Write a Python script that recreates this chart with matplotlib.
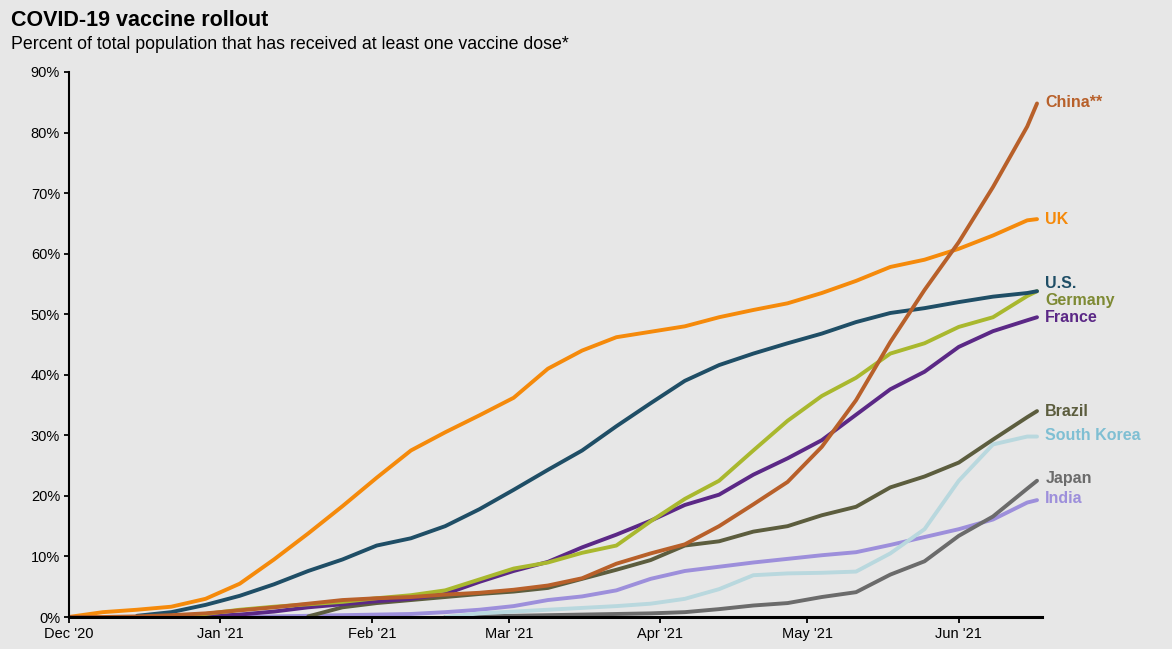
import matplotlib
matplotlib.use("Agg")
import matplotlib.pyplot as plt
import numpy as np
import pandas as pd

nan = np.nan

dates = ["2020-12-01", "2020-12-08", "2020-12-15", "2020-12-22", "2020-12-29",
         "2021-01-05", "2021-01-12", "2021-01-19", "2021-01-26", "2021-02-02",
         "2021-02-09", "2021-02-16", "2021-02-23", "2021-03-02", "2021-03-09",
         "2021-03-16", "2021-03-23", "2021-03-30", "2021-04-06", "2021-04-13",
         "2021-04-20", "2021-04-27", "2021-05-04", "2021-05-11", "2021-05-18",
         "2021-05-25", "2021-06-01", "2021-06-08", "2021-06-15", "2021-06-17"]

uk = [0, 0.8, 1.2, 1.7, 3.0, 5.5, 9.5, 13.8, 18.3, 23.0, 27.5, 30.5, 33.3, 36.2, 41.0,
      44.0, 46.2, 47.1, 48.0, 49.5, 50.7, 51.8, 53.5, 55.5, 57.8, 59.0, 60.8, 63.0, 65.5, 65.7]
us = [nan, nan, 0.2, 0.8, 2.0, 3.5, 5.4, 7.6, 9.5, 11.8, 13.0, 15.0, 17.8, 21.0, 24.3,
      27.5, 31.5, 35.3, 39.0, 41.6, 43.5, 45.2, 46.8, 48.7, 50.2, 51.0, 52.0, 52.9, 53.5, 53.8]
germany = [nan, nan, 0.0, 0.1, 0.5, 1.2, 1.7, 2.1, 2.5, 3.1, 3.6, 4.4, 6.2, 8.0, 9.0,
           10.6, 11.8, 15.8, 19.5, 22.5, 27.5, 32.4, 36.5, 39.5, 43.5, 45.2, 47.9, 49.5, 53.0, 53.8]
france = [nan, nan, nan, 0.0, 0.1, 0.4, 0.9, 1.6, 2.1, 2.6, 3.0, 3.8, 5.8, 7.6, 9.1,
          11.5, 13.6, 15.9, 18.5, 20.2, 23.5, 26.2, 29.2, 33.4, 37.6, 40.5, 44.6, 47.2, 49.0, 49.5]
china = [0, 0.0, 0.1, 0.3, 0.6, 1.1, 1.6, 2.2, 2.8, 3.1, 3.3, 3.7, 4.0, 4.5, 5.2,
         6.4, 8.8, 10.5, 12.0, 15.0, 18.6, 22.3, 28.1, 35.8, 45.4, 54.0, 61.9, 71.0, 81.0, 84.8]
brazil = [nan, nan, nan, nan, nan, nan, nan, 0.1, 1.6, 2.3, 2.8, 3.3, 3.8, 4.2, 4.8,
          6.3, 7.8, 9.4, 11.8, 12.5, 14.1, 15.0, 16.8, 18.2, 21.4, 23.2, 25.5, 29.3, 33.0, 34.0]
south_korea = [nan, nan, nan, nan, nan, nan, nan, nan, nan, nan, nan, 0.0, 0.6, 0.9, 1.2,
               1.5, 1.8, 2.2, 3.0, 4.6, 6.9, 7.2, 7.3, 7.5, 10.5, 14.5, 22.5, 28.5, 29.8, 29.8]
japan = [nan, nan, nan, nan, nan, nan, nan, nan, nan, nan, nan, 0.0, 0.1, 0.2, 0.3,
         0.4, 0.5, 0.6, 0.8, 1.3, 1.9, 2.3, 3.3, 4.1, 7.0, 9.2, 13.4, 16.6, 21.2, 22.5]
india = [nan, nan, nan, nan, nan, 0.0, 0.1, 0.2, 0.3, 0.4, 0.5, 0.8, 1.2, 1.8, 2.8,
         3.4, 4.4, 6.3, 7.6, 8.3, 9.0, 9.6, 10.2, 10.7, 11.9, 13.2, 14.5, 16.1, 18.9, 19.3]

names = ["India", "Japan", "South Korea", "Brazil", "France", "Germany", "U.S.", "UK", "China**"]
series = [india, japan, south_korea, brazil, france, germany, us, uk, china]
line_colors = ["#9d8fdb", "#6b6b6b", "#b9d8de", "#5c5d3e", "#5b2886", "#a9b82e",
               "#1f4e66", "#f58a0b", "#b8602a"]
label_colors = ["#9d8fdb", "#6b6b6b", "#7fbfd3", "#5c5d3e", "#5b2886", "#7e8a34",
                "#1f4e66", "#f58a0b", "#b8602a"]
# label vertical placement (data units) to avoid overlap
label_y = [19.6, 22.8, 29.9, 34.0, 49.4, 52.3, 55.0, 65.7, 85.0]

month_ticks = ["2020-12-01", "2021-01-01", "2021-02-01", "2021-03-01",
               "2021-04-01", "2021-05-01", "2021-06-01"]
month_labels = ["Dec '20", "Jan '21", "Feb '21", "Mar '21", "Apr '21", "May '21", "Jun '21"]
yticks = [0, 10, 20, 30, 40, 50, 60, 70, 80, 90]

bg = "#e7e7e7"
plt.rcParams['font.family'] = ['Liberation Sans', 'DejaVu Sans']

fig = plt.figure(figsize=(11.72, 6.49), dpi=100, facecolor=bg)
ax = fig.add_axes([0.0585, 0.0493, 0.8305, 0.8398], facecolor=bg)

x = pd.to_datetime(dates)
for name, vals, lc in zip(names, series, line_colors):
    ax.plot(x, vals, color=lc, lw=2.8, solid_joinstyle='round', solid_capstyle='round')

last_x = x[-1]
for name, ly, tc in zip(names, label_y, label_colors):
    ax.annotate(name, xy=(last_x, ly), xytext=(6, 0), textcoords='offset points',
                ha='left', va='center', fontsize=11.5, fontweight='bold', color=tc,
                annotation_clip=False)

ax.set_ylim(0, 90)
ax.set_xlim(pd.Timestamp("2020-12-01"), pd.Timestamp("2021-06-18"))
ax.set_yticks(yticks)
ax.set_yticklabels([f"{v}%" for v in yticks], fontsize=10.5)
ax.set_xticks(pd.to_datetime(month_ticks))
ax.set_xticklabels(month_labels, fontsize=10.5)

for s in ["top", "right"]:
    ax.spines[s].set_visible(False)
ax.spines["left"].set_linewidth(1.5)
ax.spines["bottom"].set_linewidth(2.2)
ax.tick_params(axis='y', length=3.6, width=1.3, pad=2.5)
ax.tick_params(axis='x', length=4, width=1.3, pad=3)

fig.text(0.009, 0.969, "COVID-19 vaccine rollout", fontsize=15.5, fontweight='bold',
         ha='left', va='center', color='black')
fig.text(0.009, 0.932, "Percent of total population that has received at least one vaccine dose*",
         fontsize=12.8, ha='left', va='center', color='black')

fig.savefig("out.png", dpi=100, facecolor=bg)
